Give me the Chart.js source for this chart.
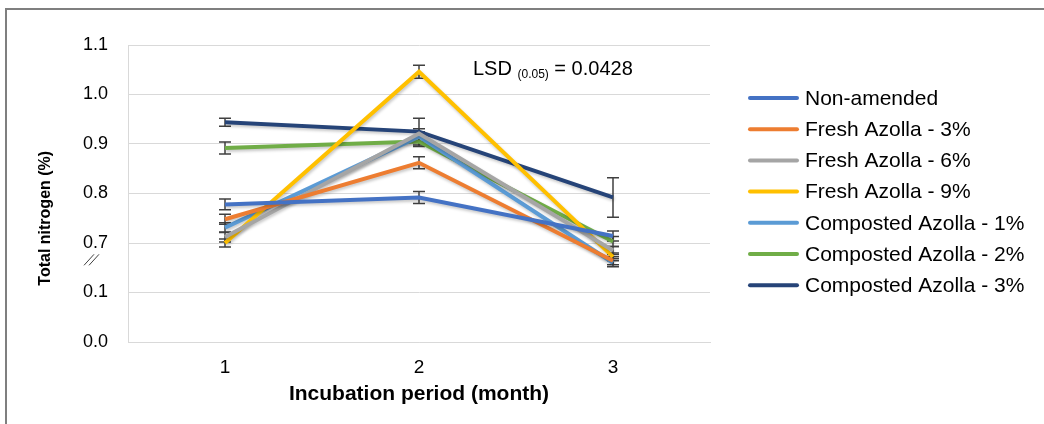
<!DOCTYPE html>
<html>
<head>
<meta charset="utf-8">
<script src="https://cdn.jsdelivr.net/npm/chart.js@4/dist/chart.umd.min.js"></script>
<style>
  body { margin: 0; background: #fff; }
  #wrap { position: relative; width: 1044px; height: 424px; }
</style>
</head>
<body>
<div id="wrap"><canvas id="myChart"></canvas></div>
<script>
// months of incubation
var months = ["1", "2", "3"];

// total nitrogen (%) per treatment
var nonAmended   = [0.778, 0.792, 0.714];
var fresh3       = [0.748, 0.862, 0.664];
var fresh6       = [0.712, 0.921, 0.685];
var fresh9       = [0.700, 1.046, 0.672];
var composted1   = [0.731, 0.915, 0.660];
var composted2   = [0.892, 0.905, 0.703];
var composted3   = [0.944, 0.925, 0.792];

// error bar half-widths
var errNonAmended = [0.011, 0.012, 0.010];
var errFresh3     = [0.010, 0.012, 0.008];
var errFresh6     = [0.010, 0.010, 0.008];
var errFresh9     = [0.008, 0.013, 0.008];
var errComposted1 = [0.010, 0.010, 0.008];
var errComposted2 = [0.012, 0.010, 0.010];
var errComposted3 = [0.008, 0.027, 0.040];

var seriesNames = ["Non-amended", "Fresh Azolla - 3%", "Fresh Azolla - 6%", "Fresh Azolla - 9%",
                   "Composted Azolla - 1%", "Composted Azolla - 2%", "Composted Azolla - 3%"];
var colors = ["#4472C4", "#ED7D31", "#A5A5A5", "#FFC000", "#5B9BD5", "#70AD47", "#264478"];
var values = [nonAmended, fresh3, fresh6, fresh9, composted1, composted2, composted3];
var errors = [errNonAmended, errFresh3, errFresh6, errFresh9, errComposted1, errComposted2, errComposted3];

// y tick labels (axis is broken between 0.1 and 0.7)
var yTickLabels = ["0.0", "0.1", "0.7", "0.8", "0.9", "1.0", "1.1"];
var yTitle = "Total nitrogen (%)";
var lsdText = "0.0428";

// broken axis: values >= 0.7 are shifted down by 0.5
var BREAK_SHIFT = 0.5;
function toAxis(v) { return v >= 0.6 ? v - BREAK_SHIFT : v; }

var FONT = "'Liberation Sans', Arial, sans-serif";

var datasets = [];
for (var i = 0; i < values.length; i++) {
  datasets.push({
    label: seriesNames[i],
    data: values[i].map(toAxis),
    errs: errors[i],
    borderColor: colors[i],
    backgroundColor: colors[i],
    borderWidth: 4,
    pointRadius: 0,
    tension: 0
  });
}

var extras = {
  id: "extras",
  beforeDraw: function(chart) {
    var c = chart.ctx;
    c.save();
    c.strokeStyle = "#7f7f7f";
    c.lineWidth = 2;
    c.beginPath();
    c.moveTo(6, 424);
    c.lineTo(6, 9);
    c.lineTo(1044, 9);
    c.stroke();
    c.restore();
  },
  beforeDatasetsDraw: function(chart) {
    var c = chart.ctx;
    var xs = chart.scales.x, ys = chart.scales.y;
    c.save();
    c.strokeStyle = "#404040";
    c.lineWidth = 1.5;
    chart.data.datasets.forEach(function(ds) {
      ds.data.forEach(function(v, j) {
        var x = xs.getPixelForValue(j);
        var yTop = ys.getPixelForValue(v + ds.errs[j]);
        var yBot = ys.getPixelForValue(v - ds.errs[j]);
        c.beginPath();
        c.moveTo(x, yTop); c.lineTo(x, yBot);
        c.moveTo(x - 6, yTop); c.lineTo(x + 6, yTop);
        c.moveTo(x - 6, yBot); c.lineTo(x + 6, yBot);
        c.stroke();
      });
    });
    c.restore();
  },
  beforeDatasetDraw: function(chart) {
    var c = chart.ctx;
    c.save();
    c.shadowColor = "rgba(0,0,0,0.22)";
    c.shadowBlur = 3;
    c.shadowOffsetX = 1;
    c.shadowOffsetY = 2;
  },
  afterDatasetDraw: function(chart) {
    chart.ctx.restore();
  },
  afterDraw: function(chart) {
    var c = chart.ctx;
    var xs = chart.scales.x, ys = chart.scales.y;
    var area = chart.chartArea;
    c.save();
    c.fillStyle = "#000";
    // y axis title, sitting a little below the middle as in the figure
    c.save();
    c.translate(ys.left + 10, ys.getPixelForValue(0.25));
    c.rotate(-Math.PI / 2);
    c.textAlign = "center";
    c.textBaseline = "middle";
    c.font = "bold 16px " + FONT;
    c.fillText(yTitle, 0, 0);
    c.restore();
    // LSD annotation
    var x0 = xs.getPixelForValue(1) + 54;
    var y0 = ys.getPixelForValue(0.55);
    c.textBaseline = "middle";
    c.textAlign = "left";
    c.font = "20px " + FONT;
    c.fillText("LSD", x0, y0);
    var w = c.measureText("LSD ").width;
    c.font = "12px " + FONT;
    c.fillText("(0.05)", x0 + w, y0 + 5);
    w += c.measureText("(0.05)").width;
    c.font = "20px " + FONT;
    c.fillText(" = " + lsdText, x0 + w, y0);
    // axis break marks
    var by = ys.getPixelForValue(0.165);
    var bx = ys.right - 36;
    c.strokeStyle = "#404040";
    c.lineWidth = 1;
    c.beginPath();
    c.moveTo(bx - 8, by + 5); c.lineTo(bx + 2, by - 6);
    c.moveTo(bx - 3, by + 5); c.lineTo(bx + 7, by - 6);
    c.stroke();
    // legend on the right
    var lx = area.right + 40;
    var ly = area.top + 53;
    c.font = "21px " + FONT;
    c.lineCap = "round";
    c.lineWidth = 4;
    chart.data.datasets.forEach(function(ds, k) {
      var yy = ly + k * 31.2;
      c.strokeStyle = ds.borderColor;
      c.beginPath();
      c.moveTo(lx, yy); c.lineTo(lx + 47, yy);
      c.stroke();
      c.fillStyle = "#000";
      c.fillText(ds.label, lx + 55, yy + 1);
    });
    c.restore();
  }
};

var ctx = document.getElementById("myChart");
var myChart = new Chart(ctx, {
  type: "line",
  data: { labels: months, datasets: datasets },
  plugins: [extras],
  options: {
    responsive: true,
    maintainAspectRatio: false,
    animation: false,
    layout: { padding: { left: 36, top: 45, bottom: 17, right: 334 } },
    plugins: {
      tooltip: { enabled: false },
      legend: { display: false }
    },
    scales: {
      x: {
        type: "category",
        offset: true,
        afterFit: function(s) { s.height = 65; },
        grid: { display: false, drawTicks: false },
        border: { display: true, color: "#d9d9d9", width: 1 },
        ticks: { color: "#000", padding: 14, font: { size: 19, family: FONT } },
        title: {
          display: true,
          text: "Incubation period (month)",
          color: "#000",
          padding: { top: 0, bottom: 0 },
          font: { size: 21, weight: "bold", family: FONT }
        }
      },
      y: {
        min: 0,
        max: 0.6,
        afterFit: function(s) { s.width = 92; },
        afterBuildTicks: function(s) {
          s.ticks = yTickLabels.map(function(t, k) { return { value: k / 10 }; });
        },
        grid: { color: "#d9d9d9", drawTicks: false },
        border: { display: true, color: "#d9d9d9", width: 1 },
        ticks: {
          color: "#000",
          padding: 20,
          font: { size: 18, family: FONT },
          callback: function(v, k) { return yTickLabels[k]; }
        },
        title: { display: false }
      }
    }
  }
});
</script>
</body>
</html>
